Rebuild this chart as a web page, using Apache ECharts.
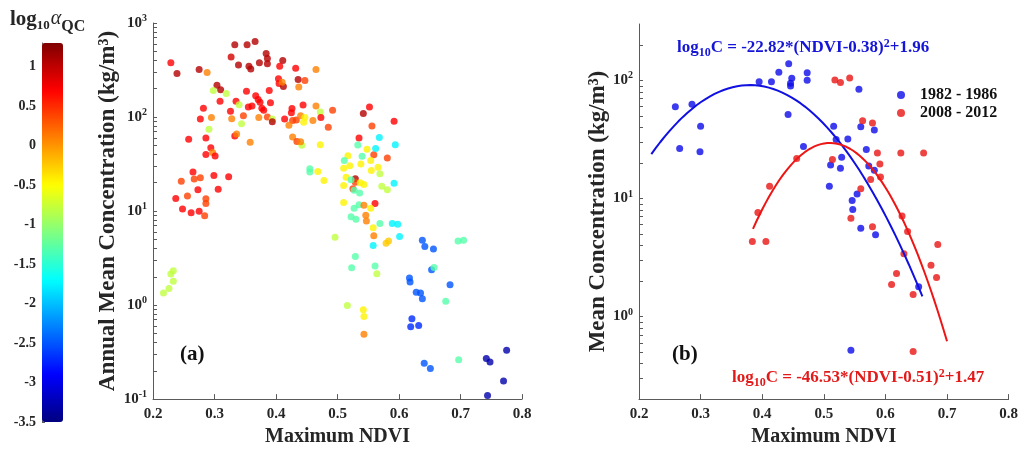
<!DOCTYPE html>
<html>
<head>
<meta charset="utf-8">
<script src="https://cdn.jsdelivr.net/npm/echarts@6/dist/echarts.min.js"></script>
<style>
  html, body { margin: 0; padding: 0; background: #ffffff; }
  #chart { width: 1021px; height: 452px; }
</style>
</head>
<body>
<div id="chart"></div>
<script>
// ---------- Panel (a): annual mean concentration vs. maximum NDVI, coloured by log10(alpha_QC) ----------
const ndviA = [
  0.229, 0.239, 0.275, 0.288, 0.333, 0.353, 0.366, 0.327, 0.339, 0.356, 0.359, 0.373, 0.384,
  0.386, 0.386, 0.411, 0.406, 0.432, 0.465, 0.404, 0.405, 0.412, 0.410, 0.436, 0.447, 0.437,
  0.304, 0.310, 0.298, 0.319, 0.352, 0.389, 0.367, 0.371, 0.309, 0.335, 0.340, 0.361, 0.355,
  0.374, 0.377, 0.380, 0.391, 0.282, 0.326, 0.347, 0.328, 0.295, 0.277, 0.372, 0.386, 0.394,
  0.394, 0.344, 0.291, 0.414, 0.426, 0.425, 0.444, 0.427, 0.421, 0.433, 0.440, 0.447, 0.445,
  0.460, 0.465, 0.472, 0.473, 0.492, 0.485,
  0.258, 0.286, 0.333, 0.336, 0.358, 0.294, 0.286, 0.297, 0.301, 0.427, 0.434, 0.442, 0.440,
  0.472, 0.265, 0.267, 0.277, 0.299, 0.323, 0.246, 0.273, 0.306, 0.256, 0.237, 0.286, 0.286,
  0.248, 0.262, 0.275, 0.284, 0.217, 0.226, 0.233, 0.229, 0.233,
  0.552, 0.542, 0.556, 0.535, 0.568, 0.533, 0.548, 0.540, 0.559, 0.517, 0.511, 0.554, 0.520,
  0.538, 0.562, 0.510, 0.455, 0.455, 0.468, 0.478, 0.514, 0.529, 0.529, 0.537, 0.525, 0.522,
  0.527, 0.536, 0.510, 0.543, 0.555, 0.566, 0.510, 0.535, 0.543, 0.561,
  0.496, 0.522, 0.530, 0.527, 0.554, 0.546, 0.547, 0.558, 0.559, 0.558, 0.569, 0.529, 0.523,
  0.561, 0.564, 0.516, 0.542, 0.543, 0.543,
  0.592, 0.594, 0.581, 0.569, 0.572, 0.581, 0.592, 0.589, 0.598, 0.601, 0.579, 0.583, 0.638,
  0.642, 0.656, 0.696, 0.705, 0.653, 0.657, 0.617, 0.618, 0.683, 0.628, 0.635, 0.638, 0.676,
  0.621, 0.619, 0.632, 0.641, 0.651, 0.697, 0.742, 0.748, 0.775, 0.770, 0.744
];
const concA = [
  378, 290, 321, 298, 586, 586, 635, 434, 358, 346, 324, 378, 474,
  420, 369, 400, 346, 330, 321, 256, 227, 211, 234, 250, 244, 208,
  218, 195, 192, 178, 188, 192, 168, 154, 147, 147, 135, 131, 128,
  144, 124, 118, 142, 124, 115, 103, 96, 99, 95, 99, 100, 95,
  89, 85, 74, 95, 123, 111, 134, 92, 82, 93, 103, 99, 88,
  92, 131, 113, 99, 118, 78,
  58, 60, 63, 66, 54, 47, 40, 42, 38.5, 61.5, 55, 50, 54.6,
  50.7, 26, 21.9, 22.6, 23.9, 23.1, 20.8, 16.8, 17.1, 14.5, 13.6, 13.5, 12.0,
  10.5, 9.6, 9.95, 8.9, 1.34, 1.50, 1.79, 2.14, 2.32,
  128, 109, 80.5, 59.7, 60.7, 50.4, 45.3, 38.3, 39.8, 38.8, 34.4, 34.4, 30.4,
  31.7, 46.4, 28.6, 28.1, 26.0, 26.3, 21.1, 22.9, 22.0, 20.3, 20.0, 17.3, 21.5,
  16.6, 15.6, 18.7, 19.2, 27.0, 29.3, 12.3, 11.7, 11.5, 12.0,
  5.28, 8.7, 8.2, 10.7, 10.7, 9.0, 7.85, 6.65, 5.47, 4.29, 7.38, 3.29, 2.49,
  2.61, 2.15, 0.99, 0.89, 0.757, 0.489,
  90, 50.7, 36.7, 24.9, 18.3, 16.8, 19.8, 7.38, 7.25, 5.35, 4.54, 4.8, 4.89,
  4.19, 3.95, 4.8, 4.89, 2.37, 2.51, 1.94, 1.76, 1.65, 1.37, 1.34, 1.17, 1.10,
  0.716, 0.589, 0.608, 0.241, 0.211, 0.262, 0.271, 0.248, 0.331, 0.156, 0.109
];
const logAlphaA = [
  0.7, 1.05, 1.05, 0.1, 1.05, 1.05, 1.05, 0.9, 1.05, 1.05, 1.05, 1.05, 1.05,
  1.05, 1.05, 1.05, 0.7, 0.7, 0.1, 0.7, 0.7, 1.05, 0.1, 1.05, 0.4, 0.1,
  1.05, 1.05, -0.8, -0.8, 0.7, 0.7, 0.7, 0.7, 0.7, 0.7, -0.8, 0.7, 0.7,
  0.7, 0.7, 0.7, 0.7, 0.7, 0.7, 0.4, 0.1, 0.1, 0.7, 0.1, 0.4, -0.8,
  1.05, -0.8, -0.8, 0.7, 0.7, 0.7, 0.7, 0.4, 0.1, 0.4, 0.1, -0.45, -0.45,
  0.1, 0.1, -0.8, 0.7, 0.4, 0.4,
  0.7, 0.7, 0.7, 0.1, 0.1, 0.7, 0.7, 0.1, 0.7, 0.1, 0.4, -0.8, 0.1,
  -0.45, 0.7, 0.4, 0.4, 0.7, 0.7, 0.4, 0.7, 0.7, 0.4, 0.7, 0.4, 0.4,
  0.7, 0.7, 0.7, 0.4, -0.8, -0.8, -0.8, -0.8, -0.8,
  0.7, 1.05, 0.4, 0.7, -1.75, -1.3, -0.45, -1.3, 0.4, -0.45, -1.3, -0.45, -0.45,
  -0.45, -1.75, -0.45, -1.3, -1.3, -0.45, -0.45, -0.45, 1.05, 0.4, -0.45, 0.4, -1.3,
  -1.3, -1.3, -0.45, -0.45, -0.45, -0.45, -0.45, -1.3, 0.1, 0.7,
  -0.8, -1.3, -1.3, -1.3, -0.45, 0.1, 0.1, -0.45, 0.1, -1.75, -1.3, -1.3, -1.3,
  -1.3, -0.8, -0.8, -0.45, -0.45, 0.1,
  0.7, -1.75, 0.4, -0.8, -0.8, -0.8, -1.75, -1.75, -1.75, -1.75, -0.25, -0.25, -2.5,
  -2.5, -2.5, -1.3, -1.3, -2.5, -1.3, -2.5, -2.5, -2.5, -2.5, -2.5, -2.5, -1.3,
  -2.7, -2.7, -2.7, -2.5, -2.5, -1.3, -3.3, -3.3, -3.3, -3.3, -3.3
];

// ---------- Panel (b): mean concentration for two periods ----------
const ndvi1982 = [
  0.259, 0.286, 0.300, 0.266, 0.299, 0.395, 0.415, 0.427, 0.443, 0.448, 0.446, 0.446,
  0.473, 0.473, 0.442, 0.467, 0.516, 0.520, 0.511, 0.509, 0.557, 0.560, 0.582, 0.539,
  0.569, 0.529, 0.527, 0.573, 0.582, 0.554, 0.546, 0.547, 0.560, 0.584, 0.654, 0.544
];
const conc1982 = [
  59.8, 62.7, 40.8, 26.5, 24.8, 97.5, 97.5, 117, 138, 104, 94.4, 89.6,
  116, 100, 51.3, 27.6, 40.8, 31.5, 19.2, 12.7, 84.1, 40.5, 37.9, 31.9,
  26.0, 22.3, 18.0, 18.8, 17.3, 10.9, 9.6, 8.07, 5.6, 4.93, 1.79, 0.519
];
const ndvi2008 = [
  0.518, 0.527, 0.542, 0.456, 0.412, 0.514, 0.563, 0.579, 0.587, 0.625, 0.662, 0.591,
  0.592, 0.576, 0.560, 0.544, 0.579, 0.627, 0.636, 0.685, 0.630, 0.674, 0.683, 0.618,
  0.610, 0.645, 0.645, 0.393, 0.384, 0.406
];
const conc2008 = [
  100.6, 95.7, 104.5, 21.8, 12.7, 21.4, 45.4, 43.5, 24.2, 24.2, 24.2, 19.6,
  15.2, 14.5, 12.1, 6.8, 5.75, 7.1, 5.26, 4.07, 3.4, 2.72, 2.14, 2.31,
  1.87, 1.54, 0.505, 7.6, 4.33, 4.33
];

// Quadratic fits: log10(C) = a * (NDVI - b)^2 + c, drawn over the NDVI span of each period
const fitCoef1982 = [-22.82, 0.38, 1.96];
const fitSpan1982 = [0.22, 0.66];
const fitCoef2008 = [-46.53, 0.51, 1.47];
const fitSpan2008 = [0.385, 0.70];

// Axis tick values
const ndviTicks = [0.2, 0.3, 0.4, 0.5, 0.6, 0.7, 0.8];
const concTicksA = [0.1, 1, 10, 100, 1000];
const concTicksB = [1, 10, 100];
const alphaTicks = [-3.5, -3, -2.5, -2, -1.5, -1, -0.5, 0, 0.5, 1];

// ---------- helpers ----------
const SERIF = "'Liberation Serif', 'Times New Roman', serif";
const INK = '#262626';
const AXIS = '#5a5a5a';

// 2..9 x 10^k ticks that fall strictly inside [lo, hi]
function minorDecades(lo, hi) {
  const out = [];
  for (let e = Math.floor(Math.log10(lo)); e <= Math.ceil(Math.log10(hi)); e++) {
    for (let m = 2; m <= 9; m++) {
      const v = m * Math.pow(10, e);
      if (v > lo * 1.0001 && v < hi * 0.9999) out.push(+v.toPrecision(3));
    }
  }
  return out;
}

function fitCurve(coef, span) {
  const pts = [];
  const n = 60;
  for (let i = 0; i <= n; i++) {
    const x = span[0] + (span[1] - span[0]) * i / n;
    const d = x - coef[1];
    pts.push([x, Math.pow(10, coef[0] * d * d + coef[2])]);
  }
  return pts;
}

const zip = (xs, ys) => xs.map((x, i) => [x, ys[i]]);

const powLabel = v => '{b|10}{s|' + Math.round(Math.log10(v)) + '}';
const powRich = {
  b: { fontFamily: SERIF, fontWeight: 'bold', fontSize: 15, color: INK },
  s: { fontFamily: SERIF, fontWeight: 'bold', fontSize: 10, color: INK, padding: [0, 0, 9, 0] }
};

// MATLAB "jet" colormap sampled at nine evenly spaced stops
const jet = ['#000080', '#0000ff', '#0080ff', '#00ffff', '#80ff80', '#ffff00', '#ff8000', '#ff0000', '#800000'];

function xAxisFor(grid) {
  return {
    type: 'value', gridIndex: grid, min: 0.2, max: 0.8, interval: 0.1,
    name: 'Maximum NDVI', nameLocation: 'middle', nameGap: 27,
    nameTextStyle: { fontFamily: SERIF, fontWeight: 'bold', fontSize: 20, color: INK },
    axisLine: { show: true, onZero: false, lineStyle: { color: AXIS, width: 1 } },
    axisTick: { show: true, inside: true, length: 5, lineStyle: { color: AXIS }, customValues: ndviTicks },
    axisLabel: {
      margin: 8, fontFamily: SERIF, fontWeight: 'bold', fontSize: 15, color: INK,
      customValues: ndviTicks, formatter: v => v.toFixed(1)
    },
    splitLine: { show: false }
  };
}

function logAxisFor(grid, lo, hi, ticks, name, nameGap) {
  return {
    type: 'log', logBase: 10, gridIndex: grid, min: lo, max: hi, position: 'left',
    name: name, nameLocation: 'middle', nameGap: nameGap, nameRotate: 90,
    nameTextStyle: { fontFamily: SERIF, fontWeight: 'bold', fontSize: 23, color: INK },
    axisLine: { show: true, onZero: false, lineStyle: { color: AXIS, width: 1 } },
    axisTick: {
      show: true, inside: true, length: 4, lineStyle: { color: AXIS },
      customValues: ticks.concat(minorDecades(lo, hi))
    },
    axisLabel: { margin: 6, customValues: ticks, formatter: powLabel, rich: powRich },
    splitLine: { show: false }
  };
}

const option = {
  animation: false,
  backgroundColor: '#ffffff',
  grid: [
    { left: 153, top: 23, width: 369, height: 379 },
    { left: 639, top: 24, width: 370, height: 380 },
    { left: 42, top: 43, width: 21, height: 379 }
  ],
  xAxis: [
    xAxisFor(0),
    xAxisFor(1),
    { type: 'value', gridIndex: 2, show: false, min: 0, max: 1 }
  ],
  yAxis: [
    logAxisFor(0, 0.1, 1000, concTicksA, 'Annual Mean Concentration (kg/m³)', 29),
    logAxisFor(1, 0.2, 300, concTicksB, 'Mean Concentration (kg/m³)', 29),
    {
      type: 'value', gridIndex: 2, min: -3.5, max: 1.3, position: 'left',
      axisLine: { show: true, lineStyle: { color: AXIS } },
      axisTick: { show: true, inside: true, length: 3, lineStyle: { color: AXIS }, customValues: alphaTicks },
      axisLabel: {
        margin: 6, fontFamily: SERIF, fontWeight: 'bold', fontSize: 14, color: INK,
        customValues: alphaTicks, formatter: v => String(v)
      },
      splitLine: { show: false }
    }
  ],
  visualMap: {
    type: 'continuous', min: -3.5, max: 1.3, dimension: 2, seriesIndex: 0,
    left: 42, top: 43, itemWidth: 21, itemHeight: 379, padding: 0,
    calculable: false, hoverLink: false,
    inRange: { color: jet }
  },
  legend: {
    data: ['1982 - 1986', '2008 - 2012'],
    orient: 'vertical', left: 892, top: 82, icon: 'circle',
    itemWidth: 28, itemHeight: 8, itemGap: 2,
    textStyle: { fontFamily: SERIF, fontWeight: 'bold', fontSize: 16, color: '#111' }
  },
  series: [
    {
      type: 'scatter', xAxisIndex: 0, yAxisIndex: 0, symbolSize: 7,
      data: ndviA.map((x, i) => [x, concA[i], logAlphaA[i]])
    },
    {
      name: '1982 - 1986', type: 'scatter', xAxisIndex: 1, yAxisIndex: 1, symbolSize: 7,
      itemStyle: { color: '#0b0bea' }, data: zip(ndvi1982, conc1982)
    },
    {
      name: '2008 - 2012', type: 'scatter', xAxisIndex: 1, yAxisIndex: 1, symbolSize: 7,
      itemStyle: { color: '#ea1414' }, data: zip(ndvi2008, conc2008)
    },
    {
      type: 'line', xAxisIndex: 1, yAxisIndex: 1, showSymbol: false, smooth: false,
      lineStyle: { color: '#1010e0', width: 2 }, data: fitCurve(fitCoef1982, fitSpan1982)
    },
    {
      type: 'line', xAxisIndex: 1, yAxisIndex: 1, showSymbol: false, smooth: false,
      lineStyle: { color: '#ee1515', width: 2 }, data: fitCurve(fitCoef2008, fitSpan2008)
    }
  ],
  graphic: [
    {
      type: 'text', x: 10, y: 20,
      style: {
        text: '{b|log}{sb|10}{a|α}{q|QC}',
        verticalAlign: 'middle',
        rich: {
          b: { fontFamily: SERIF, fontWeight: 'bold', fontSize: 21, fill: INK },
          sb: { fontFamily: SERIF, fontWeight: 'bold', fontSize: 13, fill: INK, padding: [11, 0, 0, 0] },
          a: { fontFamily: SERIF, fontSize: 20, fontStyle: 'italic', fill: INK, padding: [0, 0, 3, 1] },
          q: { fontFamily: SERIF, fontWeight: 'bold', fontSize: 16, fill: INK, padding: [13, 0, 0, 0] }
        }
      }
    },
    {
      type: 'text', x: 180, y: 355,
      style: { text: '(a)', verticalAlign: 'middle', fontFamily: SERIF, fontWeight: 'bold', fontSize: 21, fill: '#111' }
    },
    {
      type: 'text', x: 672, y: 355,
      style: { text: '(b)', verticalAlign: 'middle', fontFamily: SERIF, fontWeight: 'bold', fontSize: 21, fill: '#111' }
    },
    {
      type: 'text', x: 677, y: 48,
      style: {
        text: '{t|log}{d|10}{t|C = -22.82*(NDVI-0.38)}{u|2}{t|+1.96}',
        verticalAlign: 'middle',
        rich: {
          t: { fontFamily: SERIF, fontWeight: 'bold', fontSize: 17, fill: '#1515d8' },
          d: { fontFamily: SERIF, fontWeight: 'bold', fontSize: 12, fill: '#1515d8', padding: [9, 0, 0, 0] },
          u: { fontFamily: SERIF, fontWeight: 'bold', fontSize: 12, fill: '#1515d8', padding: [0, 0, 9, 0] }
        }
      }
    },
    {
      type: 'text', x: 732, y: 378,
      style: {
        text: '{t|log}{d|10}{t|C = -46.53*(NDVI-0.51)}{u|2}{t|+1.47}',
        verticalAlign: 'middle',
        rich: {
          t: { fontFamily: SERIF, fontWeight: 'bold', fontSize: 17, fill: '#e31a1a' },
          d: { fontFamily: SERIF, fontWeight: 'bold', fontSize: 12, fill: '#e31a1a', padding: [9, 0, 0, 0] },
          u: { fontFamily: SERIF, fontWeight: 'bold', fontSize: 12, fill: '#e31a1a', padding: [0, 0, 9, 0] }
        }
      }
    }
  ]
};

const chart = echarts.init(document.getElementById('chart'), null, { renderer: 'canvas' });
chart.setOption(option);
</script>
</body>
</html>
